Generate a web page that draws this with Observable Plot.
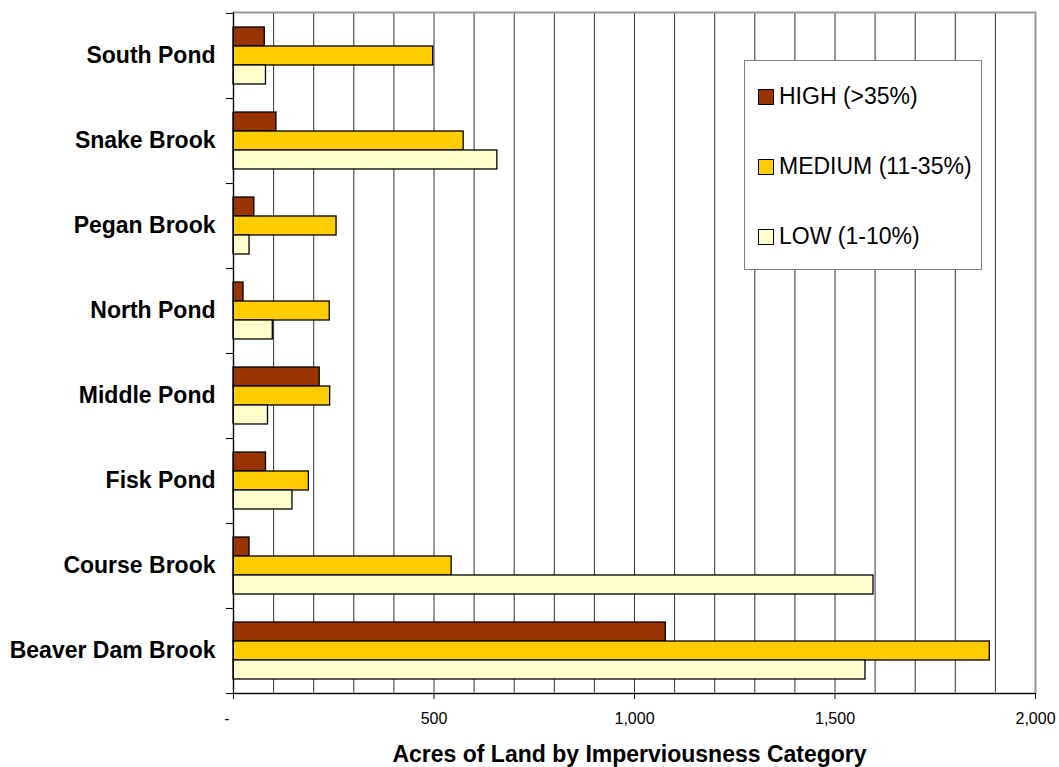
<!DOCTYPE html>
<html>
<head>
<meta charset="utf-8">
<script src="https://cdn.jsdelivr.net/npm/d3@7"></script>
<script src="https://cdn.jsdelivr.net/npm/@observablehq/plot@0.6"></script>
<style>
  html, body { margin: 0; padding: 0; background: #fff; }
  #wrap { position: relative; width: 1059px; height: 767px; font-family: "Liberation Sans", Arial, sans-serif; }
  #legend { position: absolute; left: 744px; top: 60px; width: 238px; height: 210px; box-sizing: border-box;
            border: 1px solid #808080; background: #fff; }
  .item { position: absolute; left: 13px; display: flex; align-items: center; font-size: 23px; color: #000; white-space: nowrap; }
  .sw { width: 14px; height: 14px; border: 1px solid #000; margin-right: 5px; }
</style>
</head>
<body>
<div id="wrap"></div>
<script>
const categories = ["South Pond", "Snake Brook", "Pegan Brook", "North Pond", "Middle Pond", "Fisk Pond", "Course Brook", "Beaver Dam Brook"];
const series = ["HIGH (>35%)", "MEDIUM (11-35%)", "LOW (1-10%)"];
const colors = ["#993300", "#FFCC00", "#FFFFCC"];
const high   = [78, 107, 52, 25, 215, 81, 40, 1078];
const medium = [498, 574, 257, 240, 241, 188, 544, 1886];
const low    = [81, 658, 40, 98, 86, 147, 1596, 1576];
const xTicks = [0, 500, 1000, 1500, 2000];
const xLabel = "Acres of Land by Imperviousness Category";

const values = [high, medium, low];
const data = series.flatMap((s, i) => categories.map((c, j) => ({category: c, series: s, value: values[i][j]})));

const W = 1059, H = 767, mT = 12, mB = 74, mL = 233, mR = 24;
const padInner = 0.777;
const step = (H - mT - mB) / categories.length;
const bw = step * (1 - padInner);

const font = "'Liberation Sans', Arial, sans-serif";

const chart = Plot.plot({
  width: W, height: H,
  marginTop: mT, marginBottom: mB, marginLeft: mL, marginRight: mR,
  style: {fontFamily: font, background: "#fff", color: "#000", overflow: "visible"},
  x: {domain: [0, 2000], label: null},
  y: {domain: categories, paddingInner: padInner, paddingOuter: padInner / 2, label: null},
  color: {domain: series, range: colors},
  marks: [
    Plot.gridX({interval: 100, stroke: "#333", strokeOpacity: 1, strokeWidth: 1}),
    Plot.frame({stroke: "#999", strokeWidth: 2}),
    ...series.map((s, i) => Plot.barX(data.filter(d => d.series === s), {
      x: "value", y: "category", fill: "series", stroke: "#000", strokeWidth: 1.3,
      dy: (i - 1) * bw
    })),
    Plot.frame({anchor: "left", stroke: "#000", strokeWidth: 1}),
    Plot.frame({anchor: "bottom", stroke: "#000", strokeWidth: 1}),
    Plot.axisY({tickSize: 7, tickFormat: () => "", dy: step / 2, stroke: "#000"}),
    Plot.axisY({tickSize: 7, tickFormat: () => "", dy: -step / 2, stroke: "#000"}),
    Plot.axisY({tickSize: 0, tickPadding: 18, fontSize: 23, fontWeight: "bold", label: null}),
    Plot.axisX({ticks: xTicks, tickSize: 6, tickPadding: 13, fontSize: 16, label: null,
      tickFormat: d => d === 0 ? "-\u00a0\u00a0\u00a0" : d3.format(",")(d)}),
    Plot.text([xLabel], {text: d => d, frameAnchor: "bottom", lineAnchor: "bottom", dy: 68, dx: -5,
      fontSize: 23, fontWeight: "bold", fill: "#000"})
  ]
});

const wrap = document.getElementById("wrap");
wrap.appendChild(chart);

const legend = document.createElement("div");
legend.id = "legend";
series.forEach((s, i) => {
  const item = document.createElement("div");
  item.className = "item";
  item.style.top = (36 + i * 70 - 14) + "px";
  const sw = document.createElement("div");
  sw.className = "sw";
  sw.style.background = colors[i];
  const t = document.createElement("span");
  t.textContent = s;
  item.appendChild(sw);
  item.appendChild(t);
  legend.appendChild(item);
});
wrap.appendChild(legend);
</script>
</body>
</html>
